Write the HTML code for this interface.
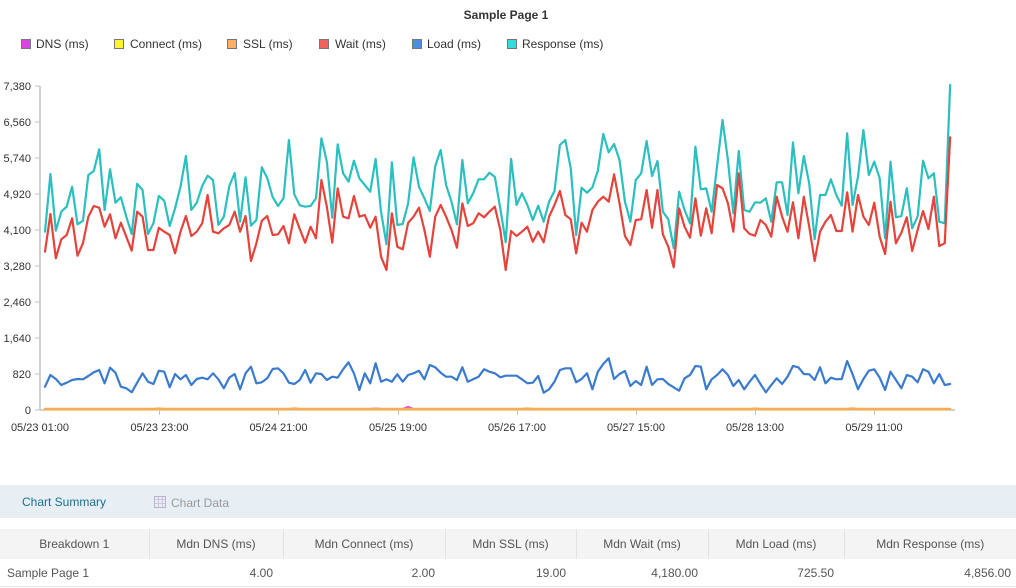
<!DOCTYPE html>
<html>
<head>
<meta charset="utf-8">
<style>
  html,body{margin:0;padding:0;background:#fff;}
  body{width:1016px;height:588px;overflow:hidden;position:relative;font-family:"Liberation Sans",Arial,sans-serif;color:#333;}
  svg text{font-family:"Liberation Sans",Arial,sans-serif;}
  .tabbar{position:absolute;left:0;top:485px;width:1016px;height:33px;background:#e7eef4;}
  .tab1{position:absolute;left:22px;top:10px;font-size:12px;color:#1b6f93;}
  .icon{position:absolute;left:154px;top:11px;width:12px;height:12px;border:1px solid #b9b5cf;background:
    linear-gradient(90deg,transparent 3px,#c9c5dc 3px,#c9c5dc 4px,transparent 4px,transparent 7px,#c9c5dc 7px,#c9c5dc 8px,transparent 8px),
    linear-gradient(0deg,transparent 3px,#c9c5dc 3px,#c9c5dc 4px,transparent 4px,transparent 7px,#c9c5dc 7px,#c9c5dc 8px,transparent 8px),#eeeaf6;box-sizing:border-box;}
  .tab2{position:absolute;left:171px;top:11px;font-size:12px;color:#9a9a9a;}
  table{position:absolute;left:0;top:529px;width:1016px;border-collapse:collapse;font-size:12px;color:#555;}
  th{background:#f4f4f4;height:30px;font-weight:normal;text-align:center;border-left:1px solid #e2e2e2;padding:0;}
  th:first-child{border-left:none;}
  td{height:27px;text-align:right;padding:0 10px 0 0;border-bottom:1px solid #e6e6e6;}
  td:first-child{text-align:left;padding-left:7px;}
</style>
</head>
<body>
<svg width="1016" height="480" viewBox="0 0 1016 480" style="position:absolute;left:0;top:0;">
  <text x="506" y="19" text-anchor="middle" font-size="12" font-weight="bold" fill="#333">Sample Page 1</text>
  <!-- legend -->
  <g font-size="12" fill="#333">
    <rect x="21.5" y="39.5" width="9" height="9" fill="#de45de" stroke="#777" stroke-width="1"/>
    <text x="36" y="48">DNS (ms)</text>
    <rect x="114.5" y="39.5" width="9" height="9" fill="#fbf52c" stroke="#777" stroke-width="1"/>
    <text x="130" y="48">Connect (ms)</text>
    <rect x="227.5" y="39.5" width="9" height="9" fill="#fdb063" stroke="#777" stroke-width="1"/>
    <text x="243" y="48">SSL (ms)</text>
    <rect x="319.5" y="39.5" width="9" height="9" fill="#f0625a" stroke="#777" stroke-width="1"/>
    <text x="335" y="48">Wait (ms)</text>
    <rect x="412.5" y="39.5" width="9" height="9" fill="#4b8fd8" stroke="#777" stroke-width="1"/>
    <text x="427" y="48">Load (ms)</text>
    <rect x="507.5" y="39.5" width="9" height="9" fill="#35dcdc" stroke="#777" stroke-width="1"/>
    <text x="522" y="48">Response (ms)</text>
  </g>
  <!-- axes -->
  <g stroke="#c2c2c2" stroke-width="1.5" fill="none">
    <line x1="40" y1="86" x2="40" y2="410"/>
    <line x1="40" y1="410" x2="955" y2="410"/>
  </g>
  <g stroke="#c2c2c2" stroke-width="1">
    <line x1="35" y1="86" x2="40" y2="86"/>
    <line x1="35" y1="122" x2="40" y2="122"/>
    <line x1="35" y1="158" x2="40" y2="158"/>
    <line x1="35" y1="194" x2="40" y2="194"/>
    <line x1="35" y1="230" x2="40" y2="230"/>
    <line x1="35" y1="266" x2="40" y2="266"/>
    <line x1="35" y1="302" x2="40" y2="302"/>
    <line x1="35" y1="338" x2="40" y2="338"/>
    <line x1="35" y1="374" x2="40" y2="374"/>
    <line x1="35" y1="410" x2="40" y2="410"/>
    <line x1="159.5" y1="410" x2="159.5" y2="415"/>
    <line x1="278.5" y1="410" x2="278.5" y2="415"/>
    <line x1="398.5" y1="410" x2="398.5" y2="415"/>
    <line x1="517.5" y1="410" x2="517.5" y2="415"/>
    <line x1="636.5" y1="410" x2="636.5" y2="415"/>
    <line x1="755.5" y1="410" x2="755.5" y2="415"/>
    <line x1="874.5" y1="410" x2="874.5" y2="415"/>
  </g>
  <g font-size="11" fill="#333" text-anchor="end">
    <text x="31" y="90">7,380</text>
    <text x="31" y="126">6,560</text>
    <text x="31" y="162">5,740</text>
    <text x="31" y="198">4,920</text>
    <text x="31" y="234">4,100</text>
    <text x="31" y="270">3,280</text>
    <text x="31" y="306">2,460</text>
    <text x="31" y="342">1,640</text>
    <text x="31" y="378">820</text>
    <text x="31" y="414">0</text>
  </g>
  <g font-size="11" fill="#333" text-anchor="middle">
    <text x="40" y="431">05/23 01:00</text>
    <text x="159.5" y="431">05/23 23:00</text>
    <text x="278.5" y="431">05/24 21:00</text>
    <text x="398" y="431">05/25 19:00</text>
    <text x="517" y="431">05/26 17:00</text>
    <text x="636" y="431">05/27 15:00</text>
    <text x="755" y="431">05/28 13:00</text>
    <text x="874" y="431">05/29 11:00</text>
  </g>
  <!-- series -->
  <g transform="translate(45,0) scale(5.42,1)" fill="none" stroke-linejoin="round" stroke-linecap="round">
    <polyline vector-effect="non-scaling-stroke" stroke="#fbf52c" stroke-width="1.5" points="0,409.5 167,409.5"/>
    <polyline vector-effect="non-scaling-stroke" stroke="#de45de" stroke-width="2" points="0,409 60,409 61,408.5 62,409 66,409 67,407 68,409 167,409"/>
    <polyline vector-effect="non-scaling-stroke" stroke="#fdab55" stroke-width="2.5" points="0,409 20,409 21,408.6 22,409 45,409 46,408.5 47,409 88,409 89,408.6 90,409 130,409 131,408.6 132,409 148,409 149,408.5 150,409 167,409"/>
    <polyline vector-effect="non-scaling-stroke" stroke="#3a7bcf" stroke-width="2.2" points="0,386.7 1,375 2,379 3,385 4,382.7 5,380 6,379 7,379.3 8,376 9,372.3 10,370 11,383.3 12,367.7 13,372.7 14,386.7 15,388.3 16,392.3 17,382.7 18,373.3 19,381.7 20,384 21,370.7 22,371.7 23,387.3 24,374 25,379.3 26,375 27,385 28,379 29,377.7 30,379.3 31,373.3 32,379.3 33,388.3 34,377.7 35,374 36,389.3 37,373.3 38,366.7 39,383.3 40,382.3 41,378.3 42,369 43,368.3 44,373.3 45,382.7 46,384 47,380 48,370 49,382.7 50,373.3 51,374 52,380 53,376.7 54,377.7 55,369.3 56,362.3 57,373.3 58,390 59,373.3 60,383.3 61,363.3 62,381.7 63,379.3 64,381.7 65,374.3 66,381.7 67,375 68,373.3 69,370.7 70,379.3 71,365 72,367.3 73,372.7 74,376.7 75,376.7 76,380 77,367.3 78,381.7 79,379.3 80,376.7 81,369.3 82,371.7 83,373.3 84,377.3 85,375.7 86,375.7 87,375.7 88,379.3 89,383.3 90,382.7 91,376 92,392.7 93,389.3 94,381.7 95,370 96,368.3 97,368.3 98,382.3 99,379 100,373.3 101,389.3 102,371.7 103,364 104,358.3 105,379 106,374 107,371 108,386 109,381 110,385 111,366.7 112,385 113,379.3 114,379 115,384 116,387.3 117,390.7 118,378.3 119,375 120,366 121,366.7 122,389.3 123,379.3 124,375 125,369.3 126,375 127,386 128,380 129,389.3 130,381.7 131,375 132,384 133,392.3 134,385 135,378.3 136,384 137,376.7 138,366 139,367.3 140,374 141,374.3 142,380 143,367.3 144,383.3 145,377.7 146,379.3 147,379 148,361 149,374.3 150,389.3 151,379 152,370.7 153,369.3 154,377.7 155,390 156,371.7 157,380 158,388.3 159,375 160,376.7 161,382.3 162,369.3 163,371.7 164,383.3 165,374 166,385 167,384"/>
    <polyline vector-effect="non-scaling-stroke" stroke="#2bbfbf" stroke-width="2.2" points="0,231.7 1,174 2,230.7 3,211.7 4,206.7 5,186.7 6,224.3 7,220.7 8,175 9,171 10,149.3 11,210 12,169.3 13,202.7 14,197.3 15,216.7 16,234 17,183.7 18,190 19,234 20,223.3 21,196 22,200.7 23,226 24,208.3 25,186.7 26,156 27,210 28,202.7 29,186 30,175.7 31,180 32,225 33,216.7 34,186 35,173 36,221.7 37,177.3 38,225.7 39,220 40,167.3 41,178 42,197 43,206 44,198.3 45,140 46,194.3 47,205.3 48,206.7 49,206 50,198.3 51,138.3 52,161.7 53,217.7 54,144.3 55,173.3 56,181.7 57,160.7 58,178.3 59,185 60,191.7 61,159 62,211.7 63,244.3 64,162.3 65,225 66,224 67,203.3 68,157.3 69,186.7 70,198.3 71,211 72,166 73,150 74,185 75,201.7 76,224.3 77,160 78,203.3 79,193.3 80,179.3 81,179.3 82,172.7 83,177 84,208.3 85,242.3 86,159 87,205 88,193.3 89,205 90,220 91,205.7 92,221.7 93,201.7 94,191 95,145 96,140 97,168.3 98,235 99,187.7 100,192.7 101,187.3 102,170.7 103,134 104,152.3 105,144 106,160 107,201.7 108,221.7 109,180 110,173.3 111,141 112,176 113,161 114,211.7 115,219.3 116,248.3 117,191.7 118,210 119,223.3 120,146.7 121,189.3 122,188.3 123,211.7 124,166 125,120 126,160 127,213.3 128,151 129,210 130,211.7 131,202.3 132,202.7 133,198.3 134,221.7 135,182.3 136,182.3 137,215 138,142.3 139,193.3 140,156 141,183.3 142,239.3 143,195 144,195 145,179.3 146,195 147,205.7 148,133.3 149,205 150,176.7 151,130 152,175 153,161.7 154,178.3 155,238.3 156,161.7 157,217.3 158,216 159,188.3 160,228.3 161,216.7 162,160.7 163,178.3 164,173.3 165,221.7 166,223.3 167,85"/>
    <polyline vector-effect="non-scaling-stroke" stroke="#e5433b" stroke-width="2.2" points="0,251.7 1,214 2,258.3 3,239.3 4,235 5,218.3 6,255.7 7,243.3 8,216.7 9,206 10,207.7 11,226.7 12,214.3 13,238.3 14,222.7 15,236.7 16,250.7 17,211.7 18,216.7 19,250 20,250 21,227.7 22,231.7 23,235 24,253.3 25,231.7 26,216 27,236 28,231.7 29,223.3 30,195 31,231.7 32,233.3 33,228.3 34,225 35,211.7 36,231.7 37,216 38,261 39,243.3 40,220.7 41,216 42,235 43,234.3 44,226 45,243.3 46,214.3 47,229 48,242.7 49,226.7 50,238.3 51,180 52,206.7 53,242.7 54,188.3 55,216.7 56,218.3 57,196 58,216.7 59,215 60,227.7 61,216.7 62,256.7 63,270 64,213.3 65,246.7 66,249.3 67,222.7 68,216.7 69,207.7 70,230 71,256.7 72,216.7 73,205 74,216.7 75,230 76,247.7 77,203.3 78,226 79,223.3 80,213.3 81,217.3 82,211.7 83,206.7 84,230 85,270 86,231 87,236 88,231.7 89,226.7 90,241.7 91,231.7 92,242.3 93,216.7 94,205 95,191 96,215 97,219.3 98,253.3 99,222.7 100,231.7 101,210 102,201.7 103,196.7 104,201.7 105,174.3 106,203.3 107,236 108,245 109,220 110,219.3 111,190 112,227.7 113,190 114,234.3 115,246.7 116,267.3 117,208.3 118,226.7 119,237.7 120,198.3 121,235.7 122,208.3 123,233.3 124,185 125,188.3 126,203.3 127,231.7 128,173.3 129,228.3 130,234 131,235.7 132,220 133,225 134,236.7 135,196.7 136,216.7 137,231.7 138,202.3 139,238.3 140,196.7 141,226.7 142,261 143,231.7 144,221.7 145,215 146,231 147,231 148,192.3 149,231.7 150,195 151,216.7 152,225 153,202.7 154,236.7 155,254 156,201.7 157,243.3 158,232.7 159,217.3 160,251 161,230 162,211 163,229 164,196.7 165,246 166,243.3 167,137.3"/>
  </g>
</svg>

<div class="tabbar">
  <div class="tab1">Chart Summary</div>
  <div class="icon"></div>
  <div class="tab2">Chart Data</div>
</div>

<table>
  <colgroup>
    <col style="width:149px"><col style="width:134px"><col style="width:162px"><col style="width:131px"><col style="width:132px"><col style="width:136px"><col style="width:172px">
  </colgroup>
  <tr>
    <th>Breakdown 1</th><th>Mdn DNS (ms)</th><th>Mdn Connect (ms)</th><th>Mdn SSL (ms)</th><th>Mdn Wait (ms)</th><th>Mdn Load (ms)</th><th>Mdn Response (ms)</th>
  </tr>
  <tr>
    <td>Sample Page 1</td><td>4.00</td><td>2.00</td><td>19.00</td><td>4,180.00</td><td>725.50</td><td style="padding-right:5px">4,856.00</td>
  </tr>
</table>
</body>
</html>
